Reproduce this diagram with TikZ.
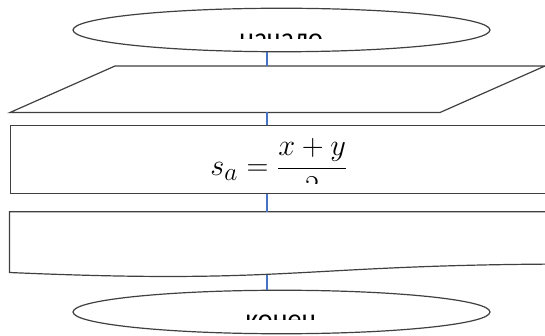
\documentclass[tikz,border=0pt]{standalone}
\usepackage{graphicx}
\usepackage{fontspec}
\newfontfamily\calib{Carlito}
\usetikzlibrary{shapes.geometric}
\definecolor{linkblue}{RGB}{68,114,196}
\begin{document}
\begin{tikzpicture}[x=1pt,y=-1pt,
  shapeline/.style={draw=black!75, line width=1.2pt},
  conn/.style={draw=linkblue, line width=2pt},
  termbox/.style={ellipse, shapeline, minimum width=417pt, minimum height=43.5pt, inner sep=0pt},
  lbl/.style={font=\calib\fontsize{28}{34}\selectfont, inner sep=0pt, anchor=base}]
\clip (0,0) rectangle (545,336);
\fill[white] (0,0) rectangle (545,336);
% start terminal
\node[termbox] (start) at (281.5,30) {};
\begin{scope}
  \clip (0,0) rectangle (545,39);
  \node[lbl] (starttext) at (281,48) {начало};
\end{scope}
\coordinate (cx) at (266.7,0);
% input parallelogram
\draw[shapeline] (115,66) coordinate (pTL) -- (545,66) coordinate (pTR)
  -- (440,112.5) coordinate (pBR) -- (10,112.5) coordinate (pBL) -- cycle;
% process box
\node[rectangle, shapeline, minimum width=560pt, minimum height=68pt,
  anchor=north west, inner sep=0pt] (proc) at (9.5,125) {};
\begin{scope}
  \clip (0,0) rectangle (545,183.5);
  \node[inner sep=0pt, anchor=base, font=\fontsize{24.88}{30}\selectfont] (formula) at (279,176)
    {\scalebox{1.22}{$\displaystyle s_a=\frac{x+y}{2}$}};
\end{scope}
% document shape
\draw[shapeline] (600,211.7) coordinate (dTR) -- (9.5,211.7) coordinate (dTL)
  -- (9.5,272.5) .. controls (296,285) and (296,264) .. (583,264) -- (600,264);
\coordinate (docb) at (266.7,274.5);
% end terminal
\node[termbox] (end) at (281.5,312) {};
\begin{scope}
  \clip (0,0) rectangle (545,319.5);
  \node[lbl] (endtext) at (281,328.5) {конец};
\end{scope}
% connectors
\draw[conn] (cx |- start.south) -- (cx |- pTL);
\draw[conn] (cx |- pBL) -- (cx |- proc.north);
\draw[conn] (cx |- proc.south) -- (cx |- dTL);
\draw[conn] (docb) -- (cx |- end.north);
\end{tikzpicture}
\end{document}
